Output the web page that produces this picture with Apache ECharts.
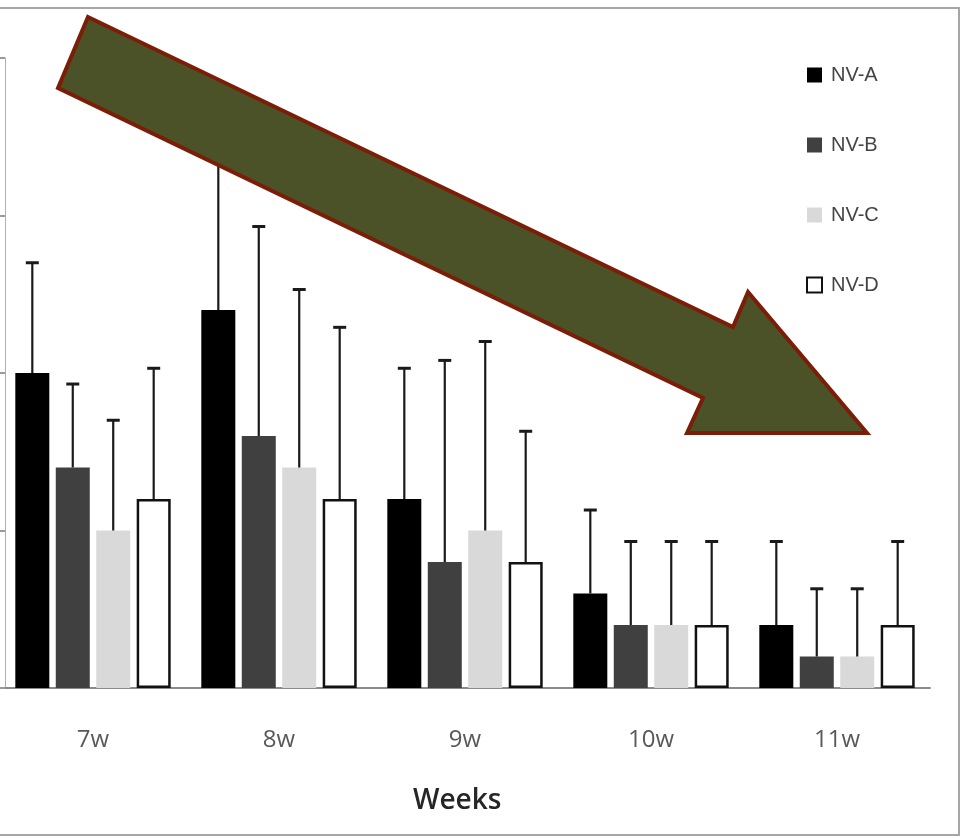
<!DOCTYPE html>
<html>
<head>
<meta charset="utf-8">
<script src="https://cdn.jsdelivr.net/npm/echarts@6/dist/echarts.min.js"></script>
<style>
  html, body { margin: 0; padding: 0; background: #fff; }
  #chart { width: 961px; height: 838px; }
</style>
</head>
<body>
<div id="chart"></div>
<script>
// Weekly means per group, with the upper standard deviation
const weeks = ['7w', '8w', '9w', '10w', '11w'];
const groupNames = ['NV-A', 'NV-B', 'NV-C', 'NV-D'];

const nvA = [2.0, 2.4, 1.2, 0.6, 0.4];
const nvB = [1.4, 1.6, 0.8, 0.4, 0.2];
const nvC = [1.0, 1.4, 1.0, 0.4, 0.2];
const nvD = [1.2, 1.2, 0.8, 0.4, 0.4];

const sdA = [0.70, 1.05, 0.83, 0.53, 0.53];
const sdB = [0.53, 1.33, 1.28, 0.53, 0.43];
const sdC = [0.70, 1.13, 1.20, 0.53, 0.43];
const sdD = [0.83, 1.09, 0.83, 0.53, 0.53];

const yTicks = [0, 1, 2, 3, 4];

const means = [nvA, nvB, nvC, nvD];
const sds = [sdA, sdB, sdC, sdD];

const BAR_W = 34;
const GAP_RATIO = 0.19;

const barStyles = [
  { color: '#000000' },
  { color: '#404040' },
  { color: '#d9d9d9' },
  { color: '#ffffff', borderColor: '#111111', borderWidth: 2.5 }
];

const chart = echarts.init(document.getElementById('chart'), null, { renderer: 'canvas' });

const series = [];
groupNames.forEach((name, i) => {
  series.push({
    name: name,
    type: 'bar',
    data: means[i],
    barWidth: BAR_W,
    barGap: (GAP_RATIO * 100) + '%',
    itemStyle: barStyles[i],
    z: 2
  });
});

// Upper error bars, offset to sit on each group's bar
groupNames.forEach((name, i) => {
  const offset = (i - 1.5) * BAR_W * (1 + GAP_RATIO);
  series.push({
    name: name + ' SD',
    type: 'custom',
    z: 3,
    data: weeks.map((w, k) => [k, means[i][k], means[i][k] + sds[i][k]]),
    encode: { x: 0, y: [1, 2] },
    renderItem: function (params, api) {
      const base = api.coord([api.value(0), api.value(1)]);
      const top = api.coord([api.value(0), api.value(2)]);
      const x = base[0] + offset;
      const cap = 6.5;
      return {
        type: 'group',
        children: [
          { type: 'line', shape: { x1: x, y1: base[1], x2: x, y2: top[1] },
            style: { stroke: '#1a1a1a', lineWidth: 2.2, fill: null } },
          { type: 'line', shape: { x1: x - cap, y1: top[1], x2: x + cap, y2: top[1] },
            style: { stroke: '#1a1a1a', lineWidth: 3, fill: null } }
        ]
      };
    }
  });
});

chart.setOption({
  animation: false,
  backgroundColor: '#ffffff',
  title: {
    text: 'Weeks',
    left: 408,
    top: 782,
    textStyle: { fontFamily: 'Open Sans', fontSize: 28, fontWeight: 600, color: '#262626' }
  },
  legend: {
    data: groupNames,
    orient: 'vertical',
    left: 801,
    top: 60,
    icon: 'rect',
    itemWidth: 15,
    itemHeight: 15,
    itemGap: 50,
    selectedMode: false,
    textStyle: { fontFamily: 'Liberation Sans', fontSize: 20, color: '#444444', padding: [0, 0, 0, 4] }
  },
  grid: { left: 0, right: 31, top: 58, bottom: 150, containLabel: false },
  xAxis: {
    type: 'category',
    data: weeks,
    axisLine: { lineStyle: { color: '#8a8a8a', width: 2 } },
    axisTick: { inside: true, length: 9, lineStyle: { color: '#8a8a8a', width: 2 } },
    axisLabel: {
      margin: 40,
      fontFamily: 'Open Sans',
      fontSize: 24,
      color: '#595959'
    }
  },
  yAxis: {
    type: 'value',
    min: yTicks[0],
    max: yTicks[yTicks.length - 1],
    interval: 1,
    offset: -5,
    axisLine: { show: true, lineStyle: { color: '#b0b0b0', width: 1 } },
    axisTick: { show: true, length: 6, lineStyle: { color: '#9a9a9a', width: 2 } },
    axisLabel: { show: false },
    splitLine: { show: false }
  },
  graphic: [
    {
      type: 'rect',
      z: 0,
      silent: true,
      shape: { x: -10, y: 8, width: 969, height: 827 },
      style: { fill: null, stroke: '#a6a6a6', lineWidth: 2 }
    },
    {
      type: 'polygon',
      z: 100,
      silent: true,
      shape: {
        points: [[88, 17], [733, 327], [748, 292], [867, 433], [687, 433], [703, 398], [58, 88]]
      },
      style: { fill: '#4b5227', stroke: '#7c1d08', lineWidth: 4, lineJoin: 'miter' }
    }
  ],
  series: series
});
</script>
</body>
</html>
